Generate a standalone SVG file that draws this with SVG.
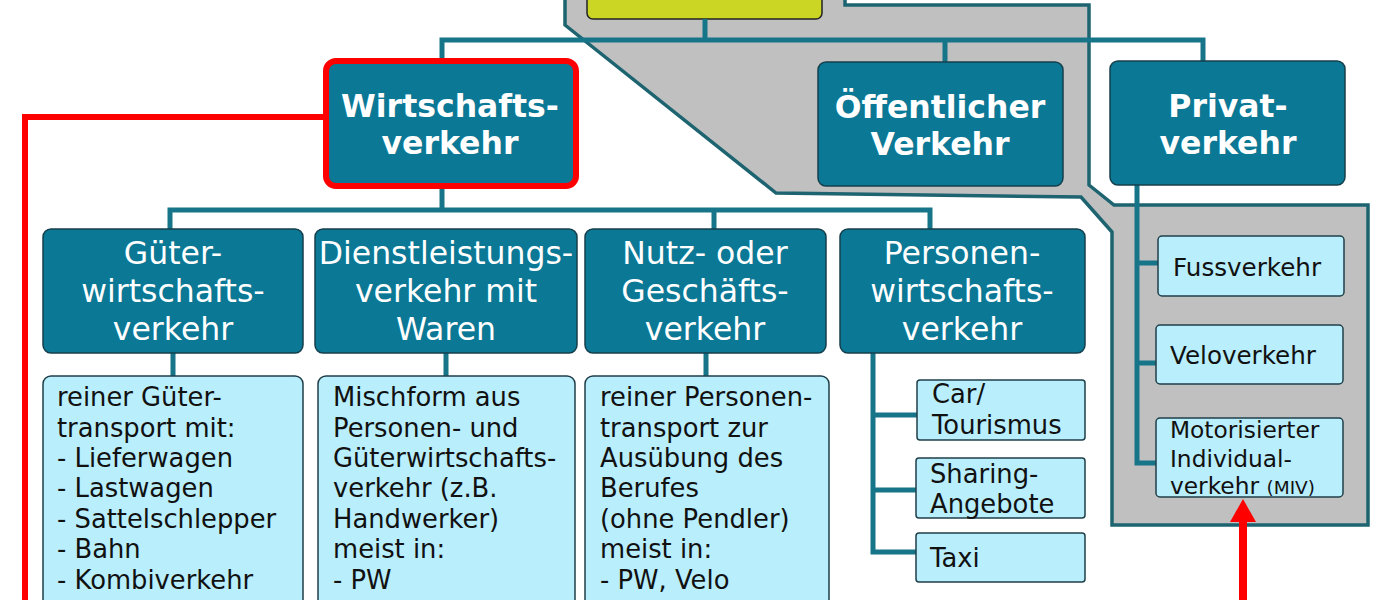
<svg xmlns="http://www.w3.org/2000/svg" width="1400" height="600" viewBox="0 0 1400 600">
<style>
.top{fill:#0b7896;stroke:#163f4c;stroke-width:1.5}
.mid{fill:#0b7896;stroke:#163f4c;stroke-width:1.5}
.lt{fill:#b9eefc;stroke:#1f3f48;stroke-width:1.5}
.tb{font-family:"DejaVu Sans",Verdana,sans-serif;font-weight:bold;font-size:31.5px;fill:#fff;text-anchor:middle}
.tm{font-family:"DejaVu Sans",Verdana,sans-serif;font-size:31.5px;fill:#fff;text-anchor:middle}
.tl{font-family:"DejaVu Sans",Verdana,sans-serif;font-size:25.8px;fill:#111}
.con{fill:none;stroke:#17758a;stroke-width:5}
</style>
<rect width="1400" height="600" fill="#fff"/>
<g id="background">
<path d="M565,-5 L565,25 L776,193 L1081,197 L1112,232 L1112,525 L1368,525 L1368,205 L1114,205 L1089,185 L1089,5 L845,5 L845,-5 Z" fill="#c0c0c0" stroke="#1d6470" stroke-width="3.5" stroke-linejoin="miter"/>
</g>
<g id="root">
<rect x="587" y="-10" width="235" height="29" rx="6" fill="#cad524" stroke="#222" stroke-width="1.5"/>
</g>
<g id="connectors">
<path class="con" d="M705,19 V40 M442,62 V40 H1203 V62 M945,40 V62"/>
<path class="con" d="M442,186 V210 M170,229 V210 H930 V229 M714,210 V229"/>
<path class="con" d="M173,353 V376 M446,353 V376 M706,353 V376"/>
<path class="con" d="M873,353 V552 H917 M873,415 H917 M873,490 H917"/>
<path class="con" d="M1137,185 V463 H1156 M1137,263 H1158 M1137,363 H1156"/>
<path d="M25,600 V117 H326" fill="none" stroke="#ff0000" stroke-width="6"/>
<path d="M1243,600 V518" fill="none" stroke="#ff0000" stroke-width="8"/>
<path d="M1243,499 L1256,522 L1230,522 Z" fill="#ff0000"/>
</g>
<g id="wirtschaftsverkehr">
<rect x="326" y="61" width="250" height="125" rx="10" fill="#0b7896" stroke="#ff0000" stroke-width="6"/>
<text class="tb" x="450" y="117">Wirtschafts-</text>
<text class="tb" x="450" y="154">verkehr</text>
</g>
<g id="oeffentlicher">
<rect class="top" x="818" y="62" width="245" height="124" rx="8"/>
<text class="tb" x="940" y="118">Öffentlicher</text>
<text class="tb" x="940" y="155">Verkehr</text>
</g>
<g id="privatverkehr">
<rect class="top" x="1110" y="61" width="235" height="124" rx="8"/>
<text class="tb" x="1228" y="117">Privat-</text>
<text class="tb" x="1228" y="154">verkehr</text>
</g>
<g id="gueter">
<rect class="mid" x="43" y="229" width="260" height="124" rx="8"/>
<text class="tm" x="173" y="264">Güter-</text>
<text class="tm" x="173" y="302">wirtschafts-</text>
<text class="tm" x="173" y="340">verkehr</text>
</g>
<g id="dienstleistung">
<rect class="mid" x="315" y="229" width="262" height="124" rx="8"/>
<text class="tm" x="446" y="264">Dienstleistungs-</text>
<text class="tm" x="446" y="302">verkehr mit</text>
<text class="tm" x="446" y="340">Waren</text>
</g>
<g id="nutz">
<rect class="mid" x="585" y="229" width="241" height="124" rx="8"/>
<text class="tm" x="705" y="264">Nutz- oder</text>
<text class="tm" x="705" y="302">Geschäfts-</text>
<text class="tm" x="705" y="340">verkehr</text>
</g>
<g id="personen">
<rect class="mid" x="840" y="229" width="245" height="124" rx="8"/>
<text class="tm" x="962" y="264">Personen-</text>
<text class="tm" x="962" y="302">wirtschafts-</text>
<text class="tm" x="962" y="340">verkehr</text>
</g>
<g id="gueter-detail">
<rect class="lt" x="43" y="376" width="260" height="240" rx="8"/>
<text class="tl" x="57" y="406">reiner Güter-</text>
<text class="tl" x="57" y="437">transport mit:</text>
<text class="tl" x="57" y="467">- Lieferwagen</text>
<text class="tl" x="57" y="497">- Lastwagen</text>
<text class="tl" x="57" y="528">- Sattelschlepper</text>
<text class="tl" x="57" y="558">- Bahn</text>
<text class="tl" x="57" y="589">- Kombiverkehr</text>
</g>
<g id="dienst-detail">
<rect class="lt" x="318" y="376" width="257" height="240" rx="8"/>
<text class="tl" x="333" y="406">Mischform aus</text>
<text class="tl" x="333" y="437">Personen- und</text>
<text class="tl" x="333" y="467">Güterwirtschafts-</text>
<text class="tl" x="333" y="497">verkehr (z.B.</text>
<text class="tl" x="333" y="528">Handwerker)</text>
<text class="tl" x="333" y="558">meist in:</text>
<text class="tl" x="333" y="589">- PW</text>
</g>
<g id="nutz-detail">
<rect class="lt" x="585" y="376" width="244" height="240" rx="8"/>
<text class="tl" x="600" y="406">reiner Personen-</text>
<text class="tl" x="600" y="437">transport zur</text>
<text class="tl" x="600" y="467">Ausübung des</text>
<text class="tl" x="600" y="497">Berufes</text>
<text class="tl" x="600" y="528">(ohne Pendler)</text>
<text class="tl" x="600" y="558">meist in:</text>
<text class="tl" x="600" y="589">- PW, Velo</text>
</g>
<g id="car">
<rect class="lt" x="917" y="380" width="168" height="60" rx="3"/>
<text class="tl" x="932" y="403">Car/</text>
<text class="tl" x="932" y="434">Tourismus</text>
</g>
<g id="sharing">
<rect class="lt" x="916" y="458" width="169" height="60" rx="3"/>
<text class="tl" x="930" y="483">Sharing-</text>
<text class="tl" x="930" y="513">Angebote</text>
</g>
<g id="taxi">
<rect class="lt" x="916" y="533" width="169" height="49" rx="3"/>
<text class="tl" x="930" y="567">Taxi</text>
</g>
<g id="fuss">
<rect class="lt" x="1158" y="236" width="186" height="60" rx="4"/>
<text class="tl" x="1173" y="276" style="font-size:24.6px">Fussverkehr</text>
</g>
<g id="velo">
<rect class="lt" x="1156" y="325" width="187" height="59" rx="4"/>
<text class="tl" x="1170" y="364" style="font-size:24.6px">Veloverkehr</text>
</g>
<g id="miv">
<rect class="lt" x="1156" y="418" width="187" height="79" rx="4"/>
<text class="tl" x="1170" y="438" style="font-size:23.3px">Motorisierter</text>
<text class="tl" x="1170" y="467" style="font-size:23.3px">Individual-</text>
<text class="tl" x="1170" y="494" style="font-size:23.3px">verkehr <tspan style="font-size:18.5px">(MIV)</tspan></text>
</g>
</svg>
